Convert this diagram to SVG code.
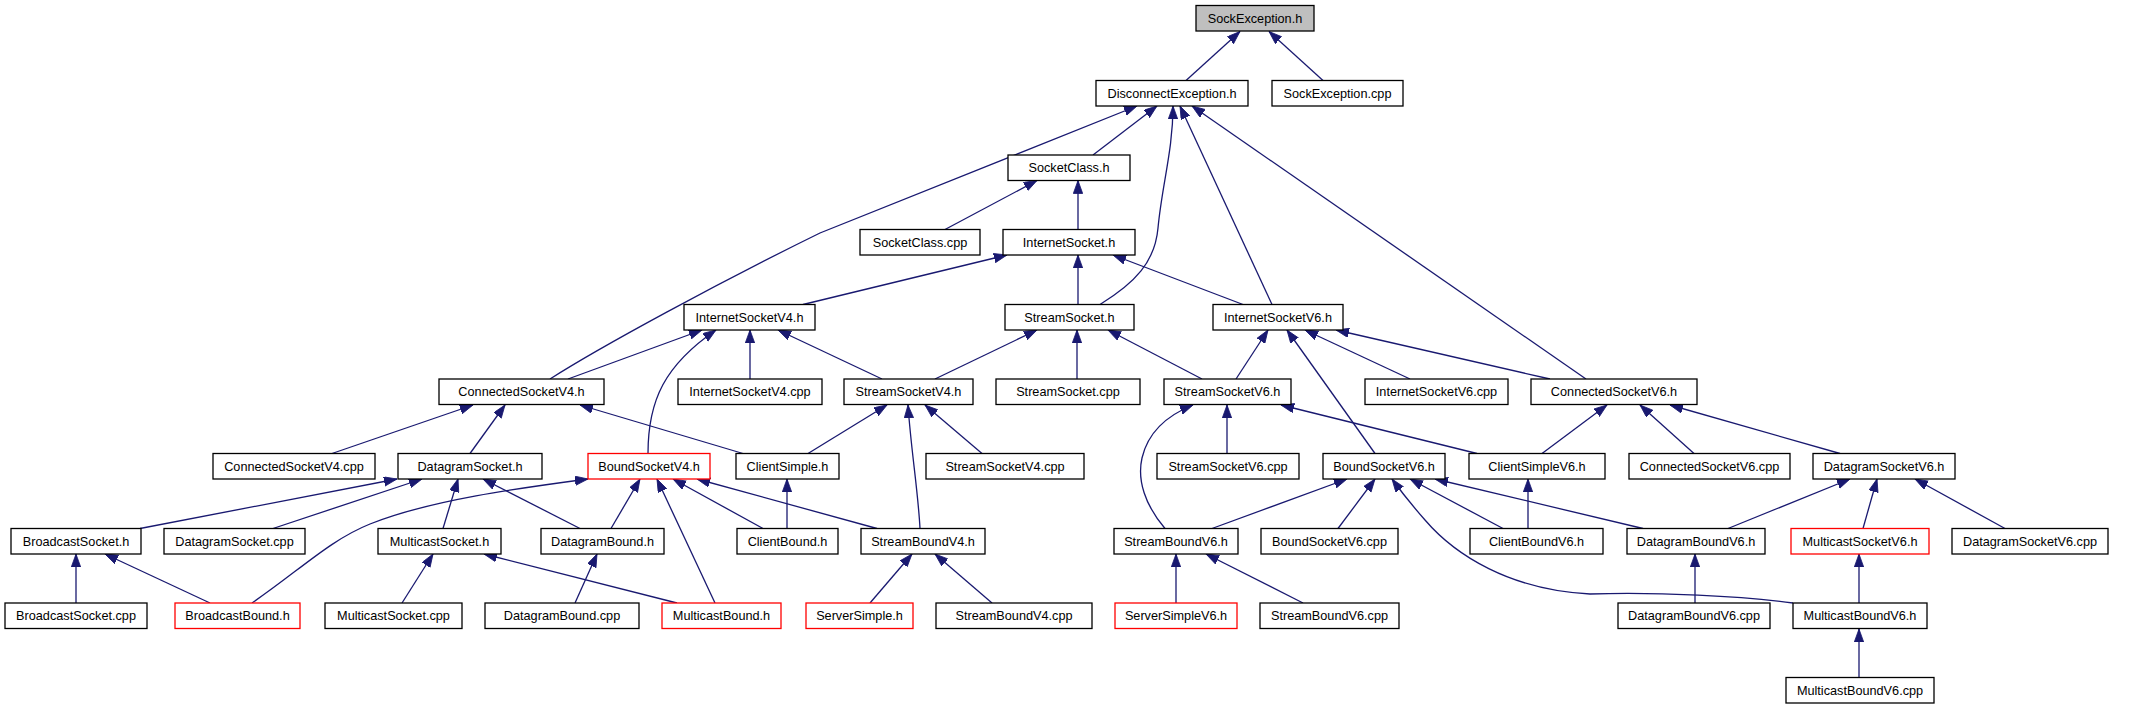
<svg xmlns="http://www.w3.org/2000/svg" width="2131" height="709" viewBox="0 0 2131 709">
<style>
.node rect{fill:#ffffff;stroke:#000000;stroke-width:1.3}
.red rect{stroke:#ff0000}
.root rect{fill:#bfbfbf}
.node text{font-family:"Liberation Sans",Arial,Helvetica,sans-serif;font-size:12.7px;text-anchor:middle;fill:#000000}
#edges path{fill:none;stroke:#191970;stroke-width:1.3;marker-end:url(#arr)}
</style>
<defs>
<marker id="arr" markerUnits="userSpaceOnUse" markerWidth="14" markerHeight="10" refX="13" refY="4.7" orient="auto">
<path d="M0,0 L13,4.7 L0,9.4 z" fill="#191970" stroke="#191970" stroke-width="0.8"/>
</marker>
</defs>
<rect width="2131" height="709" fill="#ffffff"/>
<g id="edges">
<path d="M1186,80.5 L1240,31.5"/>
<path d="M1323,80.5 L1269,31.5"/>
<path d="M1093,155 L1157,106"/>
<path d="M550,379 C600,347 720,282 820,233 L1137,106"/>
<path d="M1100,304.5 C1135,283 1155,262 1158,228 C1162,185 1173,150 1173,106"/>
<path d="M1272,304.5 L1180,106"/>
<path d="M1586,379 L1192,106"/>
<path d="M945,229.5 L1037,180.5"/>
<path d="M1078,229.5 L1078,180.5"/>
<path d="M803,304.5 L1007,255"/>
<path d="M1078,304.5 L1078,255"/>
<path d="M1243,304.5 L1113,255"/>
<path d="M568,379 L702,330"/>
<path d="M648,453.5 C648,400 665,365 716,330"/>
<path d="M750,379 L750,330"/>
<path d="M882,379 L778,330"/>
<path d="M935,379 L1037,330"/>
<path d="M1077,379 L1077,330"/>
<path d="M1202,379 L1108,330"/>
<path d="M1236,379 L1268,330"/>
<path d="M1375,453.5 L1287,330"/>
<path d="M1410,379 L1305,330"/>
<path d="M1550,379 L1336,330"/>
<path d="M332,453.5 L473,405"/>
<path d="M470,453.5 L505,405"/>
<path d="M743,453.5 L580,405"/>
<path d="M808,453.5 L887,405"/>
<path d="M920,528.5 C918,490 911,450 908,405"/>
<path d="M982,453.5 L925,405"/>
<path d="M1227,453.5 L1227,405"/>
<path d="M1165,528.5 C1145,505 1137,480 1142,458 C1148,432 1168,415 1193,405"/>
<path d="M1477,453.5 L1281,405"/>
<path d="M1542,453.5 L1607,405"/>
<path d="M1694,453.5 L1640,405"/>
<path d="M1840,453.5 L1670,405"/>
<path d="M140,528.5 L397,479"/>
<path d="M273,528.5 L422,479"/>
<path d="M443,528.5 L458,479"/>
<path d="M580,528.5 L483,479"/>
<path d="M252,603 C300,570 330,540 370,524 C430,500 520,488 588,479"/>
<path d="M611,528.5 L640,479"/>
<path d="M715,603 L657,479"/>
<path d="M763,528.5 L673,479"/>
<path d="M877,528.5 L697,479"/>
<path d="M787,528.5 L787,479"/>
<path d="M677,603 L484,554"/>
<path d="M76,603 L76,554"/>
<path d="M210,603 L105,554"/>
<path d="M402,603 L433,554"/>
<path d="M575,603 L597,554"/>
<path d="M870,603 L912,554"/>
<path d="M992,603 L935,554"/>
<path d="M1212,528.5 L1347,479"/>
<path d="M1338,528.5 L1375,479"/>
<path d="M1793,603 C1740,596 1660,592 1590,594 C1510,590 1455,555 1425,520 C1410,503 1400,490 1392,479"/>
<path d="M1503,528.5 L1410,479"/>
<path d="M1643,528.5 L1435,479"/>
<path d="M1528,528.5 L1528,479"/>
<path d="M1728,528.5 L1850,479"/>
<path d="M1863,528.5 L1877,479"/>
<path d="M2005,528.5 L1915,479"/>
<path d="M1176,603 L1176,554"/>
<path d="M1303,603 L1206,554"/>
<path d="M1695,603 L1695,554"/>
<path d="M1859,603 L1859,554"/>
<path d="M1859,677.5 L1859,629"/>
</g>
<g id="SockException_h" class="node root"><rect x="1196" y="5.5" width="118" height="25.5"/><text x="1255" y="22.8">SockException.h</text></g>
<g id="DisconnectException_h" class="node"><rect x="1096" y="80.5" width="152" height="25.5"/><text x="1172" y="97.8">DisconnectException.h</text></g>
<g id="SockException_cpp" class="node"><rect x="1272" y="80.5" width="131" height="25.5"/><text x="1337.5" y="97.8">SockException.cpp</text></g>
<g id="SocketClass_h" class="node"><rect x="1008" y="155" width="122" height="25.5"/><text x="1069" y="172.3">SocketClass.h</text></g>
<g id="SocketClass_cpp" class="node"><rect x="860" y="229.5" width="120" height="25.5"/><text x="920" y="246.8">SocketClass.cpp</text></g>
<g id="InternetSocket_h" class="node"><rect x="1003" y="229.5" width="132" height="25.5"/><text x="1069" y="246.8">InternetSocket.h</text></g>
<g id="InternetSocketV4_h" class="node"><rect x="684" y="304.5" width="131" height="25.5"/><text x="749.5" y="321.8">InternetSocketV4.h</text></g>
<g id="StreamSocket_h" class="node"><rect x="1005" y="304.5" width="129" height="25.5"/><text x="1069.5" y="321.8">StreamSocket.h</text></g>
<g id="InternetSocketV6_h" class="node"><rect x="1213" y="304.5" width="130" height="25.5"/><text x="1278" y="321.8">InternetSocketV6.h</text></g>
<g id="ConnectedSocketV4_h" class="node"><rect x="439" y="379" width="165" height="25.5"/><text x="521.5" y="396.3">ConnectedSocketV4.h</text></g>
<g id="InternetSocketV4_cpp" class="node"><rect x="678" y="379" width="144" height="25.5"/><text x="750" y="396.3">InternetSocketV4.cpp</text></g>
<g id="StreamSocketV4_h" class="node"><rect x="844" y="379" width="129" height="25.5"/><text x="908.5" y="396.3">StreamSocketV4.h</text></g>
<g id="StreamSocket_cpp" class="node"><rect x="996" y="379" width="144" height="25.5"/><text x="1068" y="396.3">StreamSocket.cpp</text></g>
<g id="StreamSocketV6_h" class="node"><rect x="1164" y="379" width="127" height="25.5"/><text x="1227.5" y="396.3">StreamSocketV6.h</text></g>
<g id="InternetSocketV6_cpp" class="node"><rect x="1365" y="379" width="143" height="25.5"/><text x="1436.5" y="396.3">InternetSocketV6.cpp</text></g>
<g id="ConnectedSocketV6_h" class="node"><rect x="1531" y="379" width="166" height="25.5"/><text x="1614" y="396.3">ConnectedSocketV6.h</text></g>
<g id="ConnectedSocketV4_cpp" class="node"><rect x="213" y="453.5" width="162" height="25.5"/><text x="294" y="470.8">ConnectedSocketV4.cpp</text></g>
<g id="DatagramSocket_h" class="node"><rect x="398" y="453.5" width="144" height="25.5"/><text x="470" y="470.8">DatagramSocket.h</text></g>
<g id="BoundSocketV4_h" class="node red"><rect x="588" y="453.5" width="122" height="25.5"/><text x="649" y="470.8">BoundSocketV4.h</text></g>
<g id="ClientSimple_h" class="node"><rect x="736" y="453.5" width="103" height="25.5"/><text x="787.5" y="470.8">ClientSimple.h</text></g>
<g id="StreamSocketV4_cpp" class="node"><rect x="926" y="453.5" width="158" height="25.5"/><text x="1005" y="470.8">StreamSocketV4.cpp</text></g>
<g id="StreamSocketV6_cpp" class="node"><rect x="1157" y="453.5" width="142" height="25.5"/><text x="1228" y="470.8">StreamSocketV6.cpp</text></g>
<g id="BoundSocketV6_h" class="node"><rect x="1323" y="453.5" width="122" height="25.5"/><text x="1384" y="470.8">BoundSocketV6.h</text></g>
<g id="ClientSimpleV6_h" class="node"><rect x="1469" y="453.5" width="136" height="25.5"/><text x="1537" y="470.8">ClientSimpleV6.h</text></g>
<g id="ConnectedSocketV6_cpp" class="node"><rect x="1629" y="453.5" width="161" height="25.5"/><text x="1709.5" y="470.8">ConnectedSocketV6.cpp</text></g>
<g id="DatagramSocketV6_h" class="node"><rect x="1813" y="453.5" width="142" height="25.5"/><text x="1884" y="470.8">DatagramSocketV6.h</text></g>
<g id="BroadcastSocket_h" class="node"><rect x="11" y="528.5" width="130" height="25.5"/><text x="76" y="545.8">BroadcastSocket.h</text></g>
<g id="DatagramSocket_cpp" class="node"><rect x="164" y="528.5" width="141" height="25.5"/><text x="234.5" y="545.8">DatagramSocket.cpp</text></g>
<g id="MulticastSocket_h" class="node"><rect x="378" y="528.5" width="123" height="25.5"/><text x="439.5" y="545.8">MulticastSocket.h</text></g>
<g id="DatagramBound_h" class="node"><rect x="541" y="528.5" width="123" height="25.5"/><text x="602.5" y="545.8">DatagramBound.h</text></g>
<g id="ClientBound_h" class="node"><rect x="737" y="528.5" width="101" height="25.5"/><text x="787.5" y="545.8">ClientBound.h</text></g>
<g id="StreamBoundV4_h" class="node"><rect x="861" y="528.5" width="124" height="25.5"/><text x="923" y="545.8">StreamBoundV4.h</text></g>
<g id="StreamBoundV6_h" class="node"><rect x="1114" y="528.5" width="124" height="25.5"/><text x="1176" y="545.8">StreamBoundV6.h</text></g>
<g id="BoundSocketV6_cpp" class="node"><rect x="1261" y="528.5" width="137" height="25.5"/><text x="1329.5" y="545.8">BoundSocketV6.cpp</text></g>
<g id="ClientBoundV6_h" class="node"><rect x="1470" y="528.5" width="133" height="25.5"/><text x="1536.5" y="545.8">ClientBoundV6.h</text></g>
<g id="DatagramBoundV6_h" class="node"><rect x="1627" y="528.5" width="138" height="25.5"/><text x="1696" y="545.8">DatagramBoundV6.h</text></g>
<g id="MulticastSocketV6_h" class="node red"><rect x="1791" y="528.5" width="138" height="25.5"/><text x="1860" y="545.8">MulticastSocketV6.h</text></g>
<g id="DatagramSocketV6_cpp" class="node"><rect x="1952" y="528.5" width="156" height="25.5"/><text x="2030" y="545.8">DatagramSocketV6.cpp</text></g>
<g id="BroadcastSocket_cpp" class="node"><rect x="5" y="603" width="142" height="25.5"/><text x="76" y="620.3">BroadcastSocket.cpp</text></g>
<g id="BroadcastBound_h" class="node red"><rect x="175" y="603" width="125" height="25.5"/><text x="237.5" y="620.3">BroadcastBound.h</text></g>
<g id="MulticastSocket_cpp" class="node"><rect x="325" y="603" width="137" height="25.5"/><text x="393.5" y="620.3">MulticastSocket.cpp</text></g>
<g id="DatagramBound_cpp" class="node"><rect x="485" y="603" width="154" height="25.5"/><text x="562" y="620.3">DatagramBound.cpp</text></g>
<g id="MulticastBound_h" class="node red"><rect x="662" y="603" width="119" height="25.5"/><text x="721.5" y="620.3">MulticastBound.h</text></g>
<g id="ServerSimple_h" class="node red"><rect x="806" y="603" width="107" height="25.5"/><text x="859.5" y="620.3">ServerSimple.h</text></g>
<g id="StreamBoundV4_cpp" class="node"><rect x="936" y="603" width="156" height="25.5"/><text x="1014" y="620.3">StreamBoundV4.cpp</text></g>
<g id="ServerSimpleV6_h" class="node red"><rect x="1115" y="603" width="122" height="25.5"/><text x="1176" y="620.3">ServerSimpleV6.h</text></g>
<g id="StreamBoundV6_cpp" class="node"><rect x="1260" y="603" width="139" height="25.5"/><text x="1329.5" y="620.3">StreamBoundV6.cpp</text></g>
<g id="DatagramBoundV6_cpp" class="node"><rect x="1618" y="603" width="152" height="25.5"/><text x="1694" y="620.3">DatagramBoundV6.cpp</text></g>
<g id="MulticastBoundV6_h" class="node"><rect x="1793" y="603" width="134" height="25.5"/><text x="1860" y="620.3">MulticastBoundV6.h</text></g>
<g id="MulticastBoundV6_cpp" class="node"><rect x="1786" y="677.5" width="148" height="25.5"/><text x="1860" y="694.8">MulticastBoundV6.cpp</text></g>
</svg>
